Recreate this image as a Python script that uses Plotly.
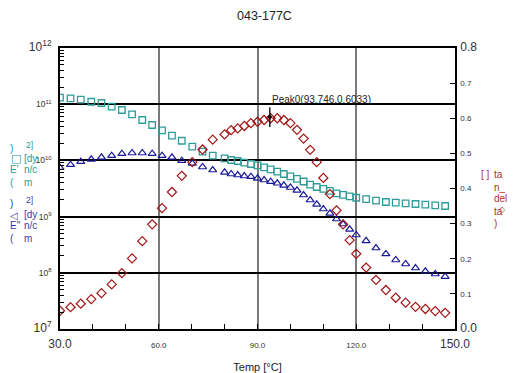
import plotly.graph_objects as go

# ---------------- data ----------------
temp = [30, 33.2, 36.3, 39.5, 42.6, 45.7, 48.8, 51.9, 55, 58, 61, 64, 67, 70.2, 73.3, 76.4,
        80, 82, 84, 86, 88, 90, 92, 94, 96, 98, 100, 102, 104, 106, 108, 110, 112, 114, 116, 118, 120,
        123, 126, 129, 132, 135, 138, 141, 144, 147]

e_storage_log = [11.116, 11.105, 11.080, 11.044, 11.021, 10.956, 10.897, 10.820, 10.719, 10.630,
                 10.536, 10.440, 10.350, 10.244, 10.155, 10.084, 10.037, 10.007, 9.989, 9.959,
                 9.936, 9.913, 9.877, 9.842, 9.799, 9.758, 9.714, 9.673, 9.625, 9.569, 9.527,
                 9.495, 9.459, 9.415, 9.388, 9.361, 9.335, 9.310, 9.283, 9.260, 9.247, 9.237,
                 9.224, 9.212, 9.201, 9.189]

e_loss_log = [9.870, 9.924, 9.977, 10.020, 10.055, 10.084, 10.119, 10.132, 10.132, 10.119,
              10.084, 10.055, 9.995, 9.948, 9.883, 9.829, 9.788, 9.758, 9.740, 9.722, 9.710,
              9.681, 9.651, 9.621, 9.593, 9.557, 9.518, 9.468, 9.384, 9.295, 9.219, 9.135,
              9.059, 8.957, 8.868, 8.774, 8.673, 8.569, 8.441, 8.335, 8.228, 8.157, 8.085,
              8.027, 7.979, 7.931]

tan_delta = [0.052, 0.062, 0.072, 0.085, 0.102, 0.127, 0.159, 0.201, 0.250, 0.298, 0.344,
             0.390, 0.436, 0.475, 0.511, 0.539, 0.554, 0.566, 0.571, 0.578, 0.586, 0.590,
             0.595, 0.600, 0.600, 0.595, 0.586, 0.567, 0.542, 0.510, 0.475, 0.430, 0.384,
             0.338, 0.298, 0.253, 0.214, 0.175, 0.140, 0.111, 0.089, 0.075, 0.063, 0.057,
             0.051, 0.046]

peak_x = [93.746]
peak_y = [0.6033]
peak_label = "Peak0(93.746,0.6033)"

x_ticks = [30, 60, 90, 120, 150]
x_minor = [40, 50, 70, 80, 100, 110, 130, 140]
y_decades = [7, 8, 9, 10, 11, 12]
y2_ticks = [0.0, 0.1, 0.2, 0.3, 0.4, 0.5, 0.6, 0.7, 0.8]

e_storage = [10 ** v for v in e_storage_log]
e_loss = [10 ** v for v in e_loss_log]

# ---------------- style ----------------
TEAL = "#2e9c98"
NAVY = "#1a1a99"
RED = "#a31515"
TEAL_TXT = "#2a9a98"
BLUE_TXT = "#3a3ab0"
RED_TXT = "#b03030"
FONT = "Liberation Sans, Arial, sans-serif"
W, H = 514, 373
L, R, T, B = 60, 455, 48, 329


def px(x):
    return (x - L) / (R - L)


def py(y):
    return (B - y) / (B - T)


def big(s, size=12):
    return "<span style='font-size:%spx'>%s</span>" % (size, s)


fig = go.Figure()
fig.add_trace(go.Scatter(x=temp, y=e_storage, mode="markers", yaxis="y",
                         marker=dict(symbol="square-open", size=6.5, color=TEAL,
                                     line=dict(width=1.3, color=TEAL))))
fig.add_trace(go.Scatter(x=temp, y=e_loss, mode="markers", yaxis="y",
                         marker=dict(symbol="triangle-up-open", size=7, color=NAVY,
                                     line=dict(width=1.2, color=NAVY))))
fig.add_trace(go.Scatter(x=temp, y=tan_delta, mode="markers", yaxis="y2",
                         marker=dict(symbol="diamond-open", size=7, color=RED,
                                     line=dict(width=1.2, color=RED))))
fig.add_trace(go.Scatter(x=peak_x, y=peak_y, mode="markers", yaxis="y2",
                         marker=dict(symbol="line-ns-open", size=14, color="black",
                                     line=dict(width=1.3, color="black"))))
fig.add_trace(go.Scatter(x=peak_x, y=peak_y, mode="markers", yaxis="y2",
                         marker=dict(symbol="diamond", size=4, color="black")))

x_text = []
for v in x_ticks:
    s = "%.1f" % v
    x_text.append(big(s) if v in (30, 150) else s)

y_text = []
for d in y_decades:
    s = "10<sup>%d</sup>" % d
    y_text.append(big(s) if d in (7, 12) else s)

y2_text = []
for v in y2_ticks:
    s = "%.1f" % v
    y2_text.append(big(s) if v in (0.0, 0.8) else s)

y_minor = [k * 10 ** d for d in range(7, 12) for k in range(2, 10)]

fig.update_layout(
    width=W, height=H, autosize=False,
    margin=dict(l=L, r=W - R, t=T, b=H - B, pad=0),
    paper_bgcolor="white", plot_bgcolor="white",
    showlegend=False,
    font=dict(family=FONT, color="#333"),
    xaxis=dict(range=[30, 150], tickmode="array", tickvals=x_ticks, ticktext=x_text,
               tickfont=dict(size=8, color="#333"), ticklabelstandoff=8, automargin=False,
               ticks="inside", ticklen=5, tickcolor="black", tickwidth=1,
               showline=True, linecolor="black", linewidth=1.5, mirror=True,
               showgrid=True, gridcolor="#7a7a7a", gridwidth=1.5, zeroline=False,
               minor=dict(tickmode="array", tickvals=x_minor, ticks="inside", ticklen=5,
                          tickcolor="black", showgrid=False),
               title=dict(text="Temp [°C]", font=dict(size=11, color="#222"), standoff=17)),
    yaxis=dict(type="log", range=[7, 12], tickmode="array",
               tickvals=[10 ** d for d in y_decades], ticktext=y_text,
               tickfont=dict(size=8.5, color="#333"), ticklabelstandoff=5, automargin=False,
               ticks="inside", ticklen=9, tickcolor="black", tickwidth=1,
               showline=True, linecolor="black", linewidth=1.5,
               showgrid=True, gridcolor="black", gridwidth=1.5, zeroline=False,
               minor=dict(tickmode="array", tickvals=y_minor, ticks="inside", ticklen=4,
                          tickcolor="black", showgrid=False)),
    yaxis2=dict(overlaying="y", side="right", range=[0, 0.8], tickmode="array",
                tickvals=y2_ticks, ticktext=y2_text, tickfont=dict(size=8, color="#333"),
                ticklabelstandoff=2, automargin=False,
                ticks="inside", ticklen=5, tickcolor="black", tickwidth=1,
                showline=True, linecolor="black", linewidth=1.5,
                showgrid=False, zeroline=False),
)

annots = []


def ann(text, x, y, color, size=10, xanchor="left", family=FONT):
    annots.append(dict(text=text, x=px(x), y=py(y), xref="paper", yref="paper",
                       xanchor=xanchor, yanchor="middle", showarrow=False,
                       font=dict(size=size, color=color, family=family)))


# title
ann("043-177C", 264, 16, "#222", size=12.5, xanchor="center")
# peak label
ann(peak_label, 270, 99, "#222", size=10)

# E' axis label (wrapped, as in original)
ann(")", 8, 148, TEAL_TXT)
ann("2]", 24, 145, TEAL_TXT, size=8.5)
ann("□", 9, 158, TEAL_TXT, size=11, family="DejaVu Sans")
ann("[dy", 22, 158, TEAL_TXT)
ann("E'", 8, 169, TEAL_TXT)
ann("n/c", 22, 169, TEAL_TXT)
ann("(", 8, 182, TEAL_TXT)
ann("m", 22, 182, TEAL_TXT)

# E'' axis label
ann(")", 8, 203, BLUE_TXT)
ann("2]", 24, 200, BLUE_TXT, size=8.5)
ann("◁", 8, 215, BLUE_TXT, size=10, family="DejaVu Sans")
ann("[dy", 22, 214, BLUE_TXT)
ann('E"', 8, 225, BLUE_TXT)
ann("n/c", 22, 225, BLUE_TXT)
ann("(", 8, 239, BLUE_TXT)
ann("m", 22, 239, BLUE_TXT)

# tan delta axis label
ann("[ ]", 479, 174, RED_TXT)
ann("ta", 492, 174, RED_TXT)
ann("n_", 492, 187, RED_TXT)
ann("del", 492, 199, RED_TXT)
ann("ta", 492, 211, RED_TXT)
ann("◇", 497, 210, RED_TXT, size=8, family="DejaVu Sans")
ann(")", 492, 223, RED_TXT)

fig.update_layout(annotations=annots)

fig.write_html("out.html")
